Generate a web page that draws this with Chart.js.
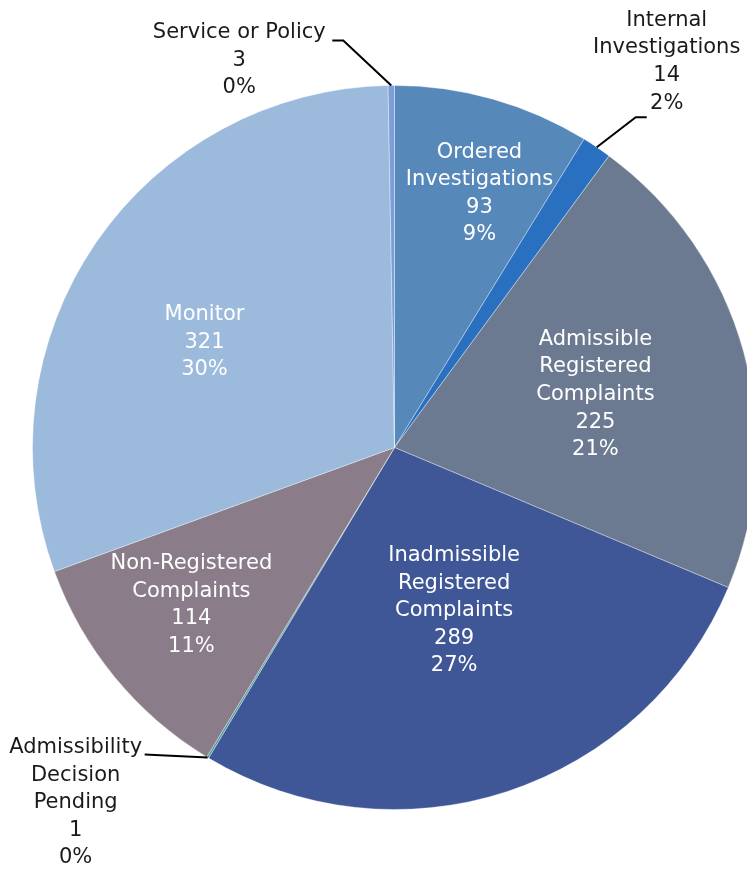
<!DOCTYPE html>
<html>
<head>
<meta charset="utf-8">
<script src="https://cdn.jsdelivr.net/npm/chart.js@4/dist/chart.umd.min.js"></script>
<style>
  html, body { margin: 0; padding: 0; background: #fff; overflow: hidden; }
  #wrap { position: relative; width: 747px; height: 872px; overflow: hidden; }
  canvas { position: absolute; left: 0; top: 0; }
</style>
</head>
<body>
<div id="wrap"><canvas id="complaintsPie" width="790" height="896"></canvas></div>
<script>
// slices go clockwise from 12 o'clock
const categories = [
    ['Ordered', 'Investigations'],
    ['Internal', 'Investigations'],
    ['Admissible', 'Registered', 'Complaints'],
    ['Inadmissible', 'Registered', 'Complaints'],
    ['Admissibility', 'Decision', 'Pending'],
    ['Non-Registered', 'Complaints'],
    ['Monitor'],
    ['Service or Policy']
];
const counts = [93, 14, 225, 289, 1, 114, 321, 3];
const percents = ['9%', '2%', '21%', '27%', '0%', '11%', '30%', '0%'];

const colors = ['#5688ba', '#2a70c0', '#6b7a91', '#3f5796', '#4b9c9e', '#8a7c88', '#9bbadc', '#7c9ed9'];

// inside labels: radius fraction + angle nudge (deg) from the slice middle
const insideLabels = {
    0: { frac: 0.74, shift: 2.7 },
    2: { frac: 0.574, shift: 0.7 },
    3: { frac: 0.48, shift: -1.9 },
    5: { frac: 0.71, shift: 1.6 },
    6: { frac: 0.60, shift: -5.5 }
};
// outside labels: leader elbow, horizontal tail, text offset from tail end
const outsideLabels = {
    1: { elbow: [39, -30], tail: 11, text: [20, -97] },
    4: { elbow: [-63, -3], tail: 0, text: [-69, -7] },
    7: { elbow: [-48, -45], tail: -11, text: [-93, -8] }
};

const FONT = '21px "DejaVu Sans", sans-serif';
const LINE_H = 27.6;

const pieLabels = {
    id: 'pieLabels',
    afterDatasetsDraw(chart) {
        const ctx = chart.ctx;
        const arcs = chart.getDatasetMeta(0).data;
        ctx.save();
        ctx.font = FONT;
        ctx.textAlign = 'center';
        ctx.textBaseline = 'middle';
        arcs.forEach((arc, i) => {
            const lines = categories[i].concat([String(counts[i]), percents[i]]);
            const mid = (arc.startAngle + arc.endAngle) / 2;
            if (insideLabels[i]) {
                const cfg = insideLabels[i];
                const a = mid + cfg.shift * Math.PI / 180;
                const r = arc.outerRadius * cfg.frac;
                const cx = arc.x + Math.cos(a) * r;
                const cy = arc.y + Math.sin(a) * r;
                const top = cy - (lines.length - 1) * LINE_H / 2;
                ctx.fillStyle = '#ffffff';
                lines.forEach((t, k) => ctx.fillText(t, cx, top + k * LINE_H));
            } else if (outsideLabels[i]) {
                const cfg = outsideLabels[i];
                const ex = arc.x + Math.cos(mid) * arc.outerRadius;
                const ey = arc.y + Math.sin(mid) * arc.outerRadius;
                const bx = ex + cfg.elbow[0];
                const by = ey + cfg.elbow[1];
                const tx = bx + cfg.tail;
                ctx.strokeStyle = '#000000';
                ctx.lineWidth = 2;
                ctx.beginPath();
                ctx.moveTo(ex, ey);
                ctx.lineTo(bx, by);
                ctx.lineTo(tx, by);
                ctx.stroke();
                const cx = tx + cfg.text[0];
                const top = by + cfg.text[1];
                ctx.fillStyle = '#1a1a1a';
                lines.forEach((t, k) => ctx.fillText(t, cx, top + k * LINE_H));
            }
        });
        ctx.restore();
    }
};

const chart = new Chart(document.getElementById('complaintsPie'), {
    type: 'pie',
    data: {
        labels: categories.map(c => c.join(' ')),
        datasets: [{
            data: counts,
            backgroundColor: colors,
            borderColor: 'rgba(255,255,255,0.35)',
            borderWidth: 1
        }]
    },
    options: {
        responsive: false,
        animation: false,
        layout: { padding: { left: 32, right: 33, top: 85, bottom: 86 } },
        plugins: {
            legend: { display: false },
            tooltip: { enabled: false }
        }
    },
    plugins: [pieLabels]
});
</script>
</body>
</html>
